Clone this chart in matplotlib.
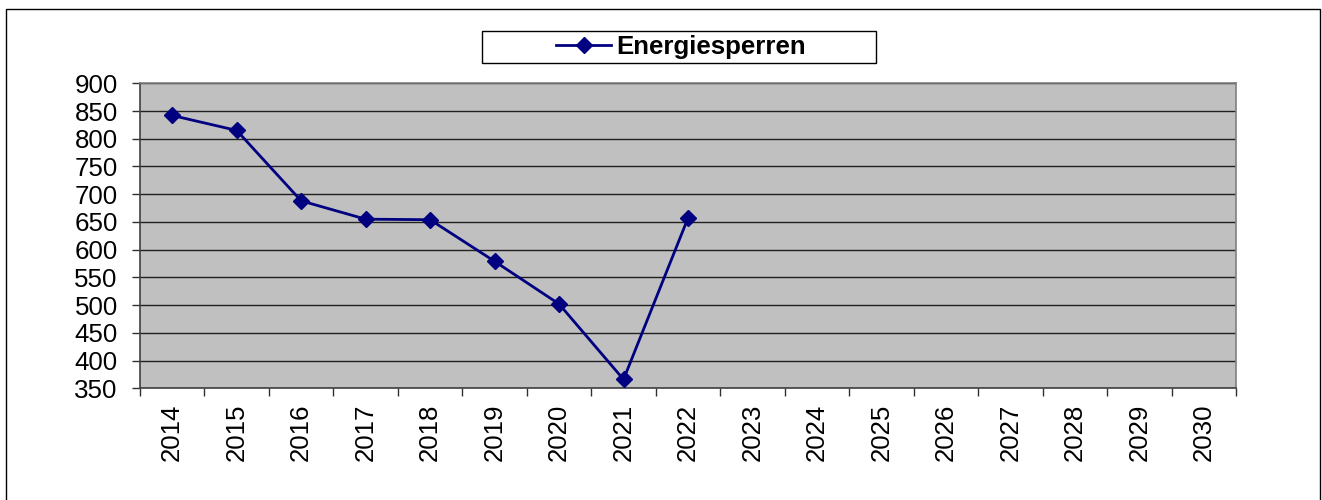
import matplotlib
matplotlib.use("Agg")
import matplotlib.pyplot as plt
from matplotlib.patches import Rectangle
from matplotlib.ticker import FixedLocator, NullFormatter

plt.rcParams['font.family'] = ['Liberation Sans', 'DejaVu Sans']

years = [str(y) for y in range(2014, 2031)]
series_name = "Energiesperren"
values = [842, 815, 688, 655, 654, 579, 502, 366, 657]
y_ticks = [350, 400, 450, 500, 550, 600, 650, 700, 750, 800, 850, 900]

W, H = 1322, 500
fig = plt.figure(figsize=(W / 100, H / 100), dpi=100)
fig.patch.set_facecolor('white')

# outer chart frame
fig.patches.append(Rectangle((6 / W, -0.05), (1320 - 6) / W, (500 - 9) / H + 0.05,
                             transform=fig.transFigure, fill=False,
                             edgecolor='black', linewidth=1.0))

ax = fig.add_axes([140 / W, (500 - 388.3) / H, (1236 - 140) / W, (388.3 - 83.3) / H])
ax.set_facecolor('#C0C0C0')

x = list(range(len(values)))
line, = ax.plot(x, values, color='#000080', linewidth=2.0, marker='D',
                markersize=8.5, markerfacecolor='#000080', markeredgecolor='#000080',
                label=series_name, zorder=3)

ax.set_xlim(-0.5, len(years) - 0.5)
ax.set_ylim(350, 900)

ax.set_yticks(y_ticks)
ax.set_yticklabels([str(v) for v in y_ticks], fontsize=18.6)
ax.yaxis.grid(True, color='#202020', linewidth=1.0)
ax.set_axisbelow(True)

ax.xaxis.set_major_locator(FixedLocator([i - 0.5 for i in range(len(years) + 1)]))
ax.xaxis.set_major_formatter(NullFormatter())
ax.xaxis.set_minor_locator(FixedLocator(list(range(len(years)))))
ax.set_xticklabels(years, minor=True, rotation=90, fontsize=18.6)
ax.tick_params(axis='x', which='major', length=6, width=1, color='#303030', direction='out')
ax.tick_params(axis='x', which='minor', length=0, pad=11)
ax.tick_params(axis='y', length=6, width=1, color='#303030', direction='out', pad=10)

for side in ['left', 'bottom']:
    ax.spines[side].set_color('#404040')
    ax.spines[side].set_linewidth(1.2)
for side in ['top', 'right']:
    ax.spines[side].set_color('#808080')
    ax.spines[side].set_linewidth(1.2)

# legend box
fig.patches.append(Rectangle((482 / W, (500 - 63) / H), (876 - 482) / W, 32 / H,
                             transform=fig.transFigure, fill=True, facecolor='white',
                             edgecolor='black', linewidth=1.0, zorder=5))
leg = fig.legend(handles=[line], labels=[series_name], loc='center',
                 bbox_to_anchor=(681 / W, (500 - 47) / H), frameon=False,
                 prop={'weight': 'bold', 'size': 18.6}, handlelength=2.1,
                 handletextpad=0.2, borderpad=0.1)
leg.set_zorder(6)

fig.savefig('out.png', dpi=100)
